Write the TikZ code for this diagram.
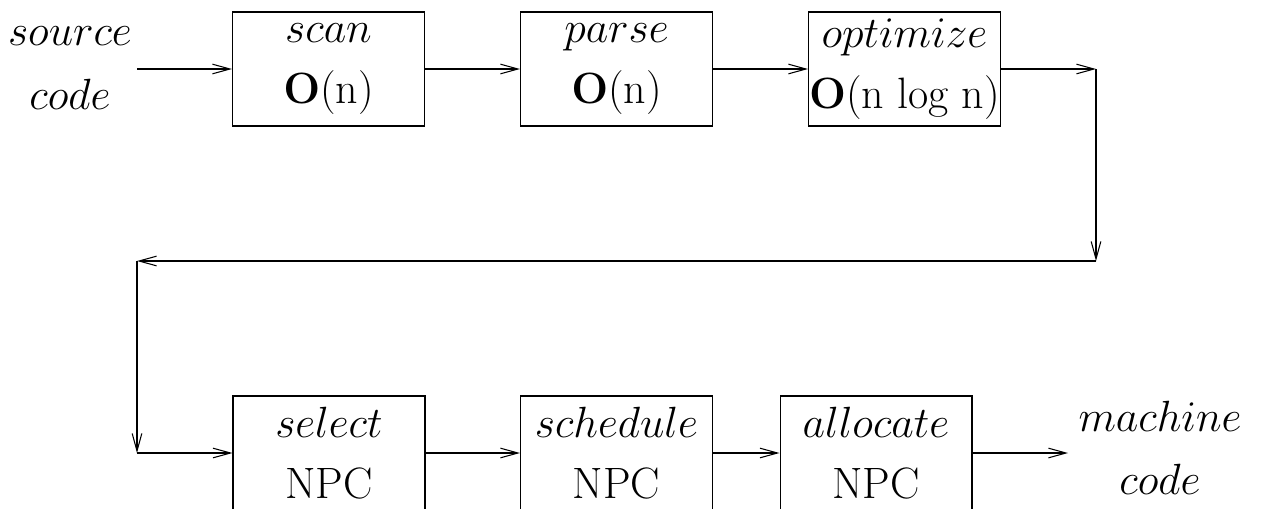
\documentclass[tikz,border=0pt]{standalone}
\usepackage{amsmath}
\usepackage{tikz}
\usetikzlibrary{arrows.meta}

\tikzset{
  stage/.style={draw, line width=0.6pt, minimum width=3.84cm, minimum height=2.28cm,
    inner sep=0pt, align=center, font=\fontsize{25}{34.6}\selectfont},
  lbl/.style={inner sep=0pt, align=center, font=\fontsize{25}{36}\selectfont},
  flow/.style={line width=0.6pt, -{Straight Barb[length=10pt,width=5.5pt]}}
}

\begin{document}
\begin{tikzpicture}[x=0.02cm, y=-0.02cm]
\clip (0,0) rectangle (1261,508);
% front end
\node[lbl] (src) at (70,68) {$source$\\$code$};
\node[stage] (scan) at (328.5,69) {$scan$\\$\mathbf{O}$(n)};
\node[stage] (parse) at (616.5,69) {$parse$\\$\mathbf{O}$(n)};
\node[stage] (opt) at (904.5,69) {$optimize$\\$\mathbf{O}$(n log n)};
% back end
\node[stage] (sel) at (329,453) {$select$\\NPC};
\node[stage] (sched) at (616.5,453) {$schedule$\\NPC};
\node[stage] (alloc) at (876,453) {$allocate$\\NPC};
\node[lbl] (mach) at (1160,448) {$machine$\\$code$};
\coordinate (in) at (137,69);
\coordinate (out) at (1068,453);
\coordinate (c1) at (1096,69);
\coordinate (c2) at (1096,261);
\coordinate (c3) at (137,261);
\coordinate (c4) at (137,453);
\draw[flow] (in) -- (scan);
\draw[flow] (scan) -- (parse);
\draw[flow] (parse) -- (opt);
\draw[flow] (opt) -- (c1);
\draw[flow] (c1) -- (c2);
\draw[flow] (c2) -- (c3);
\draw[flow] (c3) -- (c4);
\draw[flow] (c4) -- (sel);
\draw[flow] (sel) -- (sched);
\draw[flow] (sched) -- (alloc);
\draw[flow] (alloc) -- (out);
\end{tikzpicture}
\end{document}
